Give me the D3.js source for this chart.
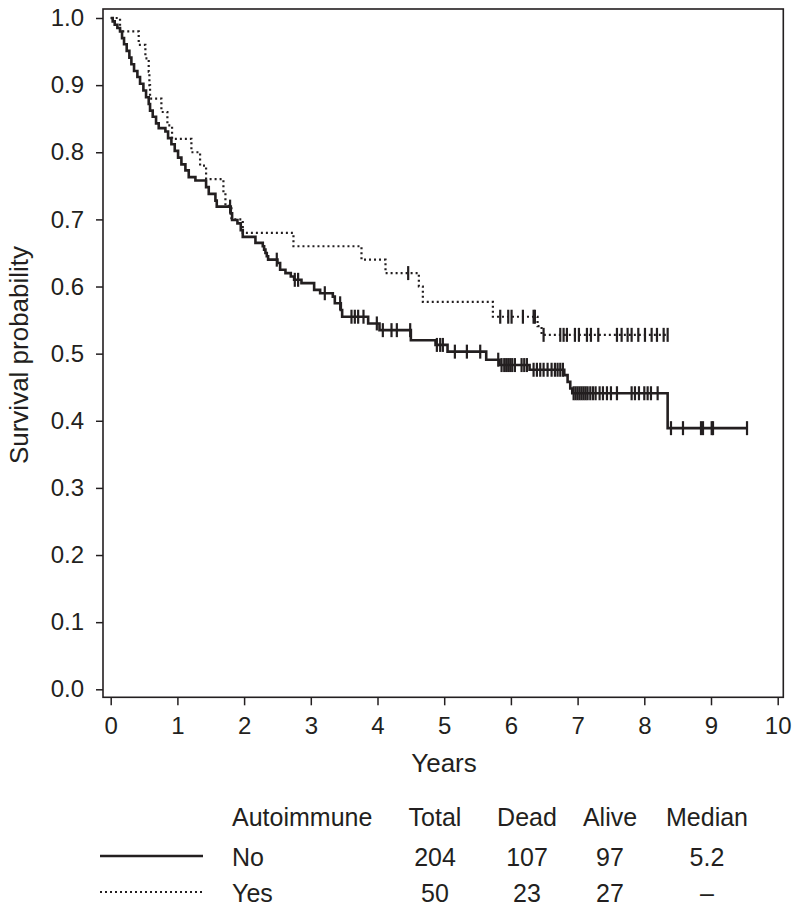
<!DOCTYPE html>
<html>
<head>
<meta charset="utf-8">
<script src="https://cdn.jsdelivr.net/npm/d3@7"></script>
<style>
  html, body { margin: 0; padding: 0; background: #fff; }
  svg text { font-family: "Liberation Sans", Arial, Helvetica, sans-serif; fill: #231f20; }
</style>
</head>
<body>
<svg id="chart" width="800" height="911"></svg>
<script>
// ---------- data ----------
const xTicks = [0, 1, 2, 3, 4, 5, 6, 7, 8, 9, 10];
const yTicks = [0.0, 0.1, 0.2, 0.3, 0.4, 0.5, 0.6, 0.7, 0.8, 0.9, 1.0];

// Autoimmune = No (solid): step times (years) and survival after each step
const noTime = [0, 0.03, 0.06, 0.10, 0.14, 0.17, 0.20, 0.24, 0.28, 0.31, 0.35, 0.40, 0.44, 0.49, 0.53, 0.57, 0.59, 0.63, 0.68, 0.72,
  0.82, 0.86, 0.91, 0.96, 1.01, 1.06, 1.12, 1.17, 1.27, 1.43, 1.47, 1.57, 1.59, 1.80, 1.82, 1.90, 1.95, 1.98,
  2.17, 2.28, 2.30, 2.32, 2.34, 2.36, 2.50, 2.54, 2.62, 2.70, 2.75, 2.86, 3.05, 3.14, 3.33, 3.36, 3.45, 3.47,
  3.86, 4.03, 4.50, 4.87, 5.05, 5.63, 5.83, 6.28, 6.80, 6.85, 6.89, 6.92, 8.35, 9.54];
const noSurv = [1.000, 0.995, 0.990, 0.985, 0.980, 0.970, 0.961, 0.951, 0.941, 0.931, 0.921, 0.912, 0.902, 0.892, 0.882, 0.872, 0.862, 0.853, 0.843, 0.836,
  0.831, 0.821, 0.812, 0.802, 0.792, 0.782, 0.773, 0.763, 0.758, 0.748, 0.738, 0.728, 0.719, 0.709, 0.699, 0.694, 0.684, 0.674,
  0.665, 0.660, 0.655, 0.650, 0.645, 0.640, 0.635, 0.625, 0.620, 0.615, 0.610, 0.605, 0.595, 0.590, 0.585, 0.575, 0.565, 0.555,
  0.545, 0.535, 0.520, 0.513, 0.503, 0.491, 0.483, 0.476, 0.468, 0.458, 0.448, 0.441, 0.389, 0.389];
const noCensor = [1.79, 2.49, 2.76, 2.81, 3.21, 3.44, 3.61, 3.66, 3.71, 3.79, 3.99, 4.08, 4.21, 4.29, 4.49,
  4.89, 4.94, 4.98, 5.16, 5.34, 5.54, 5.81, 5.86, 5.90, 5.93, 5.96, 5.99, 6.02, 6.06, 6.16, 6.20, 6.24,
  6.34, 6.39, 6.44, 6.49, 6.55, 6.61, 6.66, 6.70, 6.74, 6.78,
  6.94, 6.97, 7.00, 7.03, 7.06, 7.09, 7.12, 7.15, 7.19, 7.23, 7.27, 7.33, 7.38, 7.44, 7.50, 7.59,
  7.81, 7.86, 7.92, 8.00, 8.05, 8.10, 8.20, 8.40, 8.58, 8.85, 8.88, 9.01, 9.03, 9.54];

// Autoimmune = Yes (dotted)
const yesTime = [0, 0.14, 0.42, 0.52, 0.57, 0.58, 0.59, 0.76, 0.85, 0.92, 1.21, 1.34, 1.43, 1.69, 1.72, 1.81, 1.98,
  2.74, 3.76, 4.12, 4.62, 4.68, 5.73, 6.40, 6.46, 8.35];
const yesSurv = [1.00, 0.98, 0.96, 0.94, 0.92, 0.90, 0.88, 0.86, 0.84, 0.82, 0.80, 0.78, 0.76, 0.74, 0.72, 0.70, 0.68,
  0.66, 0.64, 0.62, 0.60, 0.577, 0.555, 0.541, 0.528, 0.528];
const yesCensor = [4.46, 5.84, 5.96, 6.01, 6.18, 6.34, 6.36, 6.49, 6.74, 6.79, 6.84, 6.96, 7.02, 7.14, 7.20, 7.31,
  7.59, 7.66, 7.75, 7.81, 7.91, 8.01, 8.11, 8.19, 8.29, 8.35];

// legend table
const tableHeader = ["Autoimmune", "Total", "Dead", "Alive", "Median"];
const groups = ["No", "Yes"];
const totals = ["204", "50"];
const dead = ["107", "23"];
const alive = ["97", "27"];
const medians = ["5.2", "–"];

// ---------- drawing ----------
const svg = d3.select("#chart");
const box = { left: 103, right: 783.3, top: 9, bottom: 697.3 };
const x = d3.scaleLinear().domain([0, 10]).range([110.7, 777.7]);
const y = d3.scaleLinear().domain([0, 1]).range([689.3, 18]);
const ink = "#231f20";

svg.append("rect").attr("width", 800).attr("height", 911).attr("fill", "#fff");

// frame
svg.append("rect")
  .attr("x", box.left).attr("y", box.top)
  .attr("width", box.right - box.left).attr("height", box.bottom - box.top)
  .attr("fill", "none").attr("stroke", ink).attr("stroke-width", 1.6);

// y axis
const yAxis = svg.append("g").attr("transform", `translate(${box.left},0)`)
  .call(d3.axisLeft(y).tickValues(yTicks).tickFormat(d3.format(".1f")).tickSize(7).tickSizeOuter(0).tickPadding(12));
yAxis.select(".domain").remove();
yAxis.selectAll("line").attr("stroke", ink).attr("stroke-width", 1.5);
yAxis.selectAll("text").attr("font-size", 24).style("font-family", "'Liberation Sans', Arial, sans-serif").attr("fill", ink);

// x axis
const xAxis = svg.append("g").attr("transform", `translate(0,${box.bottom})`)
  .call(d3.axisBottom(x).tickValues(xTicks).tickFormat(d3.format("d")).tickSize(8).tickSizeOuter(0).tickPadding(12));
xAxis.select(".domain").remove();
xAxis.selectAll("line").attr("stroke", ink).attr("stroke-width", 1.5);
xAxis.selectAll("text").attr("font-size", 24).style("font-family", "'Liberation Sans', Arial, sans-serif").attr("fill", ink);

// axis titles
svg.append("text").attr("x", 444).attr("y", 772).attr("text-anchor", "middle")
  .attr("font-size", 26).text("Years");
svg.append("text").attr("transform", "translate(28,355) rotate(-90)").attr("text-anchor", "middle")
  .attr("font-size", 26).text("Survival probability");

// step lines
const line = d3.line().x(d => x(d[0])).y(d => y(d[1])).curve(d3.curveStepAfter);
const noPts = noTime.map((t, i) => [t, noSurv[i]]);
const yesPts = yesTime.map((t, i) => [t, yesSurv[i]]);

function survAt(times, surv, t) {
  const i = d3.bisectRight(times, t) - 1;
  return surv[Math.max(0, i)];
}

svg.append("path").attr("d", line(yesPts)).attr("fill", "none")
  .attr("stroke", ink).attr("stroke-width", 2.2).attr("stroke-dasharray", "2,3");
svg.append("path").attr("d", line(noPts)).attr("fill", "none")
  .attr("stroke", ink).attr("stroke-width", 2.6);

// censor marks
svg.append("g").selectAll("line").data(yesCensor).join("line")
  .attr("x1", d => x(d)).attr("x2", d => x(d))
  .attr("y1", d => y(survAt(yesTime, yesSurv, d)) - 7)
  .attr("y2", d => y(survAt(yesTime, yesSurv, d)) + 7)
  .attr("stroke", ink).attr("stroke-width", 2.2);
svg.append("g").selectAll("line").data(noCensor).join("line")
  .attr("x1", d => x(d)).attr("x2", d => x(d))
  .attr("y1", d => y(survAt(noTime, noSurv, d)) - 7)
  .attr("y2", d => y(survAt(noTime, noSurv, d)) + 7)
  .attr("stroke", ink).attr("stroke-width", 2.2);

// legend table
const colX = [232, 435, 527, 610, 707];
const rowY = [826, 866, 902];
svg.append("g").selectAll("text").data(tableHeader).join("text")
  .attr("x", (d, i) => colX[i]).attr("y", rowY[0])
  .attr("text-anchor", (d, i) => i === 0 ? "start" : "middle")
  .attr("font-size", 25).text(d => d);

groups.forEach((g, r) => {
  const yy = rowY[r + 1];
  const vals = [g, totals[r], dead[r], alive[r], medians[r]];
  svg.append("g").selectAll("text").data(vals).join("text")
    .attr("x", (d, i) => colX[i]).attr("y", yy)
    .attr("text-anchor", (d, i) => i === 0 ? "start" : "middle")
    .attr("font-size", 25).text(d => d);
  svg.append("line").attr("x1", 100).attr("x2", 203)
    .attr("y1", yy - 10).attr("y2", yy - 10)
    .attr("stroke", ink)
    .attr("stroke-width", r === 0 ? 2.6 : 2.2)
    .attr("stroke-dasharray", r === 0 ? null : "2,3");
});
</script>
</body>
</html>
